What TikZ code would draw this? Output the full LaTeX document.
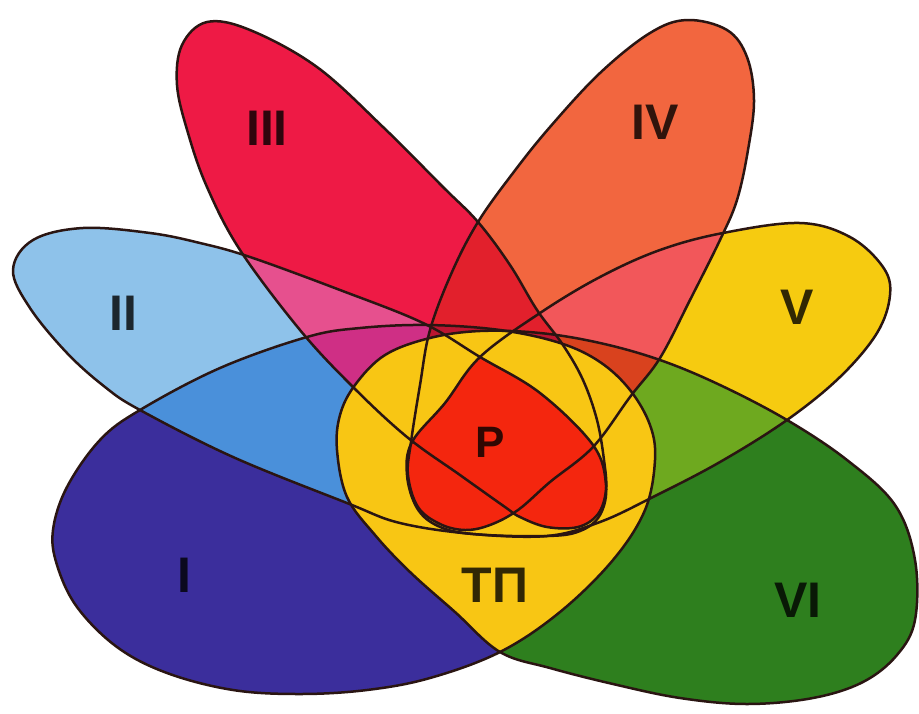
\documentclass[tikz,border=0pt]{standalone}
\usepackage{fontspec}
\setmainfont{Liberation Sans}
\definecolor{cI}{HTML}{3B2E9C}
\definecolor{cII}{HTML}{8EC2EA}
\definecolor{cIII}{HTML}{EE1A45}
\definecolor{cIV}{HTML}{F2663F}
\definecolor{cV}{HTML}{F6CB10}
\definecolor{cVI}{HTML}{2E7F1E}
\definecolor{cIaII}{HTML}{4A90DA}
\definecolor{cIIaIII}{HTML}{E6508E}
\definecolor{cIaIIaIII}{HTML}{CF2F85}
\definecolor{cIIIaIV}{HTML}{E2202C}
\definecolor{cIVaV}{HTML}{F2575A}
\definecolor{cVaVI}{HTML}{6EA91F}
\definecolor{cIVaVaVI}{HTML}{D9421E}
\definecolor{cBand}{HTML}{BC1530}
\definecolor{cTP}{HTML}{F8C614}
\definecolor{cP}{HTML}{F4260E}
\definecolor{cLine}{HTML}{2A1512}
\newcommand\pI{plot[smooth cycle,tension=0.6] coordinates{(140,410) (100,440) (67,487) (53,530) (57,565) (77,607) (117,647) (167,673) (233,690) (300,694) (367,690) (430,678) (500,652) (560,612) (613,560) (645,510) (655,460) (650,425) (630,390) (600,362) (560,343) (500,330) (427,325) (360,328) (307,337) (220,368)}}
\newcommand\pVI{plot[smooth cycle,tension=0.6] coordinates{(787,420) (847,460) (895,505) (915,560) (915,620) (897,655) (863,682) (813,698) (747,704) (680,698) (613,684) (550,668) (500,652) (455,612) (410,572) (375,535) (347,497) (337,450) (340,415) (355,385) (385,355) (430,338) (480,331) (540,333) (600,343) (660,360) (720,385)}}
\newcommand\pII{plot[smooth cycle,tension=0.6] coordinates{(13,270) (33,240) (83,228) (150,233) (200,243) (250,257) (340,290) (423,323) (480,357) (540,393) (593,445) (606,485) (600,515) (580,531) (547,536) (473,534) (400,523) (347,503) (233,457) (140,410) (105,387) (67,353) (30,308)}}
\newcommand\pV{plot[smooth cycle,tension=0.6] coordinates{(723,233) (800,223) (850,237) (883,267) (890,295) (877,333) (840,377) (787,420) (720,462) (653,497) (600,522) (547,536) (473,534) (438,526) (417,508) (407,475) (412,442) (445,403) (480,357) (540,313) (600,277) (660,250)}}
\newcommand\pIII{plot[smooth cycle,tension=0.6] coordinates{(207,22) (250,30) (317,67) (383,127) (443,187) (478,222) (510,265) (537,310) (563,345) (583,380) (597,420) (604,460) (606,490) (598,514) (578,527) (547,527) (520,517) (505,507) (460,475) (407,437) (353,387) (300,330) (240,250) (207,187) (188,133) (177,85) (182,45)}}
\newcommand\pIV{plot[smooth cycle,tension=0.6] coordinates{(687,20) (727,30) (747,57) (754,100) (748,150) (737,200) (720,240) (690,300) (660,358) (630,397) (593,447) (550,482) (518,510) (490,525) (465,530) (440,524) (418,507) (408,475) (411,442) (420,385) (430,330) (452,272) (478,222) (513,173) (550,127) (600,73) (650,33)}}
\begin{document}
\begin{tikzpicture}[x=1pt,y=-1pt,
  outl/.style={draw=cLine,line width=2.5pt,line join=round},
  lab/.style={font=\fontsize{50}{50}\selectfont\bfseries,text=black,text opacity=0.8,inner sep=0pt}]
\useasboundingbox (0,0) rectangle (919,713);
\fill[white] (0,0) rectangle (919,713);
% base fills
\fill[cI] \pI;
\fill[cVI] \pVI;
\fill[cII] \pII;
\fill[cV] \pV;
\fill[cIII] \pIII;
\fill[cIV] \pIV;
% pair overlaps
\begin{scope}\clip \pI; \fill[cIaII] \pII; \end{scope}
\begin{scope}\clip \pVI; \fill[cVaVI] \pV; \end{scope}
\begin{scope}\clip \pII; \fill[cIIaIII] \pIII; \end{scope}
\begin{scope}\clip \pV; \fill[cIVaV] \pIV; \end{scope}
\begin{scope}\clip \pIII; \fill[cIIIaIV] \pIV; \end{scope}
% triple overlaps
\begin{scope}\clip \pI; \clip \pII; \fill[cIaIIaIII] \pIII; \end{scope}
\begin{scope}\clip \pVI; \clip \pV; \fill[cIVaVaVI] \pIV; \end{scope}
\begin{scope}\clip \pIII; \clip \pIV; \fill[cBand] \pI; \fill[cBand] \pVI; \end{scope}
% TP region
\begin{scope}\clip \pI; \fill[cTP] \pVI; \end{scope}
% P region
\begin{scope}\clip \pII; \clip \pV; \fill[cP] \pIII; \fill[cP] \pIV; \end{scope}
% outlines
\draw[outl] \pI;
\draw[outl] \pVI;
\draw[outl] \pII;
\draw[outl] \pV;
\draw[outl] \pIII;
\draw[outl] \pIV;
% labels
\node[lab] (l1) at (184,575) {I};
\node[lab] (l2) at (123,313) {II};
\node[lab] (l3) at (267,128) {III};
\node[lab] (l4) at (655,122) {IV};
\node[lab] (l5) at (797,307) {V};
\node[lab] (l6) at (798,600) {VI};
\node[lab] (ltp) at (495,585) {ТП};
\node[lab,font=\fontsize{44}{44}\selectfont\bfseries] (lp) at (490,442) {Р};
\end{tikzpicture}
\end{document}
